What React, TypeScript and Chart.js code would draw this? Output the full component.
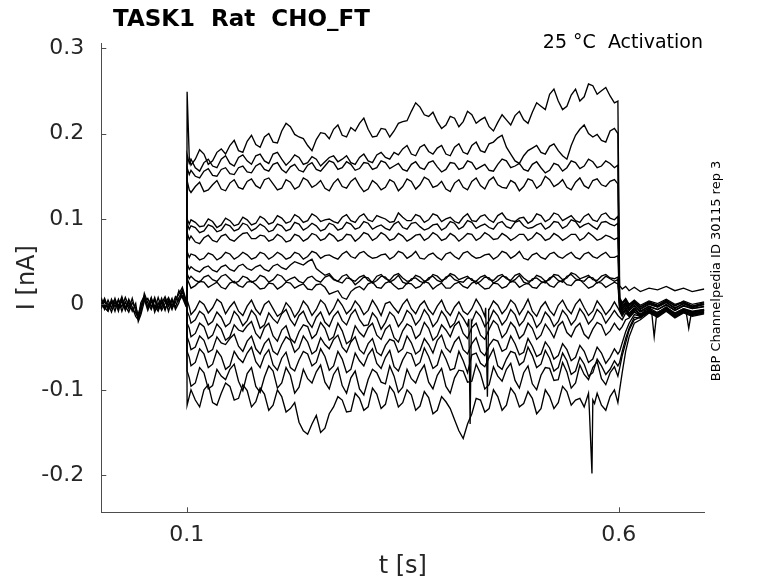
import React, { useEffect, useRef } from 'react';
import { Chart, registerables } from 'chart.js';

Chart.register(...registerables);

// time bases (s)
const holdTimes = [0.001, 0.005, 0.009, 0.013, 0.017, 0.021, 0.025, 0.029, 0.033, 0.037, 0.041, 0.044, 0.047, 0.051, 0.055, 0.059, 0.063, 0.067, 0.071, 0.075, 0.079, 0.083, 0.087, 0.091, 0.095, 0.0995];
const stepTimes = [0.1005, 0.103, 0.11, 0.12, 0.13, 0.14, 0.15, 0.16, 0.17, 0.18, 0.19, 0.2, 0.21, 0.22, 0.23, 0.24, 0.25, 0.26, 0.27, 0.28, 0.29, 0.3, 0.31, 0.32, 0.33, 0.34, 0.35, 0.36, 0.37, 0.38, 0.39, 0.4, 0.41, 0.42, 0.43, 0.44, 0.45, 0.46, 0.47, 0.48, 0.49, 0.5, 0.51, 0.52, 0.53, 0.54, 0.55, 0.56, 0.57, 0.58, 0.59, 0.599];
const midTimes = [0.105, 0.115, 0.125, 0.135, 0.145, 0.155, 0.165, 0.175, 0.185, 0.195, 0.205, 0.215, 0.225, 0.235, 0.245, 0.255, 0.265, 0.275, 0.285, 0.295, 0.305, 0.315, 0.325, 0.335, 0.345, 0.355, 0.365, 0.375, 0.385, 0.395, 0.405, 0.415, 0.425, 0.435, 0.445, 0.455, 0.465, 0.475, 0.485, 0.495, 0.505, 0.515, 0.525, 0.535, 0.545, 0.555, 0.565, 0.575, 0.585, 0.595];
const tailTimes = [0.601, 0.604, 0.608, 0.612, 0.618, 0.625, 0.635, 0.645, 0.655, 0.665, 0.675, 0.685, 0.699];
const stepOnset = 0.1;
const holdingLevel = 0;

// holding current before the step (pA)
const hold1 = [3, -6, 5, -4, 7, -5, 4, -7, 6, -3, -14, -18, -9, 13, 2, -6, 5, -4, 7, -5, 3, -6, 6, 12, 20, 4];
const hold2 = [-5, 4, -7, 6, -3, 5, -8, 3, -5, 7, -8, -16, -4, 6, -7, 4, -5, 8, -4, 6, -8, 5, -3, 8, 15, -2];
const hold3 = [6, -2, 1, -9, 3, -8, 7, -2, -9, 2, -4, -12, -2, 9, -3, 8, -9, 2, -7, 1, 8, -2, 9, 4, 10, 0];
const hold4 = [-2, 7, -4, 3, -8, 6, -3, 8, -2, -6, -10, -15, 2, 10, -4, 7, -2, -8, 4, -7, 6, -4, 2, 16, 8, -3];
const hold5 = [8, -4, -8, 2, 5, -2, 9, -5, 3, -8, 1, -20, -12, 4, 7, -3, 8, -6, 1, 9, -2, 7, -6, 2, 18, 2];

// current during the step at stepTimes, one array per sweep (pA)
const step01 = [249, 172, 170, 176, 168, 182, 186, 180, 191, 187, 196, 190, 203, 208, 196, 186, 193, 200, 205, 198, 207, 212, 205, 197, 205, 203, 214, 226, 231, 220, 214, 210, 218, 214, 222, 216, 208, 213, 216, 221, 216, 225, 232, 246, 238, 232, 252, 243, 256, 250, 244, 238];
const step02 = [175, 165, 160, 166, 162, 170, 165, 172, 168, 174, 168, 176, 170, 168, 172, 166, 170, 167, 174, 170, 166, 172, 168, 175, 172, 178, 182, 176, 184, 179, 183, 176, 184, 178, 186, 180, 188, 195, 184, 168, 174, 183, 178, 185, 180, 170, 198, 210, 196, 192, 203, 200];
const step03 = [160, 152, 150, 156, 151, 158, 153, 160, 155, 162, 158, 164, 158, 161, 157, 163, 158, 162, 166, 160, 164, 159, 165, 160, 166, 162, 158, 164, 160, 166, 161, 158, 165, 160, 166, 161, 157, 164, 168, 162, 158, 164, 160, 157, 163, 160, 166, 162, 167, 162, 165, 163];
const step04 = [145, 134, 138, 132, 140, 135, 142, 137, 144, 139, 146, 141, 136, 143, 138, 145, 140, 136, 142, 138, 144, 139, 135, 141, 137, 143, 138, 144, 140, 146, 139, 135, 142, 137, 144, 139, 145, 140, 136, 142, 138, 145, 140, 146, 141, 137, 143, 139, 145, 140, 144, 141];
const step05 = [100, 94, 96, 92, 97, 93, 98, 94, 99, 95, 100, 96, 101, 97, 102, 98, 103, 99, 97, 102, 98, 103, 99, 104, 100, 97, 102, 98, 103, 99, 104, 100, 97, 102, 98, 103, 99, 104, 100, 97, 102, 98, 104, 100, 105, 101, 98, 103, 99, 105, 101, 103];
const step06 = [95, 88, 90, 86, 91, 87, 92, 88, 93, 89, 91, 87, 92, 88, 94, 90, 92, 88, 93, 89, 94, 90, 95, 91, 89, 94, 90, 95, 91, 89, 94, 90, 95, 91, 96, 92, 90, 95, 91, 96, 92, 90, 95, 91, 96, 92, 97, 93, 91, 96, 94, 95];
const step07 = [84, 76, 73, 78, 75, 80, 76, 79, 84, 77, 80, 76, 79, 75, 80, 77, 81, 77, 80, 76, 81, 78, 82, 78, 81, 77, 80, 77, 82, 78, 81, 77, 80, 78, 82, 78, 81, 77, 80, 78, 82, 78, 81, 77, 80, 78, 82, 78, 80, 77, 79, 78];
const step08 = [62, 55, 57, 54, 58, 55, 59, 56, 58, 55, 59, 56, 58, 55, 59, 56, 60, 57, 55, 59, 56, 60, 57, 55, 59, 56, 60, 57, 54, 58, 55, 59, 56, 60, 57, 55, 59, 56, 60, 57, 54, 58, 55, 59, 56, 58, 55, 59, 56, 58, 55, 57];
const step09 = [48, 41, 40, 43, 40, 44, 41, 45, 42, 44, 41, 45, 43, 46, 48, 50, 42, 34, 30, 33, 29, 32, 28, 33, 30, 34, 31, 28, 32, 29, 33, 30, 34, 31, 28, 32, 29, 33, 30, 34, 31, 28, 32, 29, 34, 31, 35, 32, 29, 33, 31, 32];
const step10 = [36, 30, 28, 32, 29, 33, 30, 27, 31, 28, 32, 29, 33, 30, 27, 31, 28, 32, 29, 25, 30, 27, 31, 28, 32, 29, 26, 30, 27, 31, 28, 32, 29, 26, 30, 27, 31, 28, 32, 29, 26, 30, 27, 31, 28, 33, 30, 27, 31, 28, 30, 29];
const step11 = [30, 24, 22, 26, 23, 20, 25, 22, 26, 23, 19, 24, 21, 25, 22, 18, 23, 20, 14, 8, 15, 21, 24, 20, 25, 22, 19, 24, 21, 25, 22, 19, 24, 21, 25, 22, 19, 24, 21, 26, 23, 20, 25, 22, 26, 23, 28, 24, 21, 25, 23, 24];
const step12 = [5, -3, -6, 0, -4, 2, -3, -8, -2, -6, 0, -5, -10, -4, -8, -2, -6, 0, -5, -1, -6, -2, -7, -3, 1, -4, 0, -5, -1, -6, -2, -7, -3, -8, -5, -2, -6, -1, -5, 0, -4, -8, -3, -7, -1, -5, 0, -4, -8, -3, -6, -4];
const step13 = [-8, -14, -18, -12, -20, -15, -22, -14, -19, -13, -24, -17, -11, -18, -13, -20, -15, -21, -14, -19, -12, -18, -24, -16, -21, -14, -19, -12, -18, -13, -20, -15, -22, -16, -20, -14, -19, -13, -18, -12, -19, -14, -21, -15, -20, -13, -18, -12, -17, -11, -15, -13];
const step14 = [-22, -28, -34, -26, -36, -29, -38, -30, -25, -34, -27, -37, -30, -40, -32, -26, -35, -28, -38, -31, -42, -33, -27, -36, -29, -39, -31, -26, -35, -28, -37, -30, -25, -34, -27, -36, -29, -24, -33, -27, -35, -28, -36, -30, -25, -33, -27, -35, -29, -24, -31, -28];
const step15 = [-38, -45, -50, -42, -53, -45, -40, -49, -43, -52, -46, -55, -47, -42, -51, -44, -54, -47, -41, -50, -44, -53, -46, -56, -48, -43, -52, -45, -54, -47, -42, -51, -44, -53, -46, -55, -48, -43, -52, -46, -56, -49, -58, -51, -60, -53, -62, -55, -64, -57, -62, -58];
const step16 = [-55, -62, -68, -58, -70, -61, -72, -63, -57, -67, -60, -71, -63, -74, -65, -58, -68, -61, -72, -64, -76, -66, -59, -69, -62, -73, -65, -58, -68, -61, -71, -64, -75, -66, -59, -69, -62, -72, -64, -57, -67, -60, -70, -63, -74, -66, -78, -70, -80, -72, -76, -72];
const step17 = [-78, -86, -92, -80, -95, -84, -76, -90, -81, -96, -85, -78, -92, -83, -97, -87, -79, -91, -82, -95, -86, -99, -88, -80, -93, -84, -97, -87, -79, -91, -83, -96, -86, -78, -90, -81, -94, -84, -76, -89, -80, -93, -83, -75, -88, -79, -92, -82, -74, -87, -80, -84];
const step18 = [-118, -108, -112, -100, -115, -104, -96, -110, -101, -114, -105, -118, -108, -122, -138, -152, -130, -145, -120, -112, -125, -110, -120, -105, -117, -103, -115, -106, -119, -109, -124, -114, -135, -157, -128, -112, -122, -108, -118, -105, -116, -110, -122, -108, -115, -102, -112, -120, -112, -118, -108, -115];

// current during the step at midTimes (pA)
const mid01 = [163, 181, 164, 178, 176, 192, 178, 198, 184, 200, 189, 212, 199, 194, 180, 201, 194, 210, 196, 203, 218, 196, 206, 196, 212, 215, 236, 222, 225, 206, 220, 208, 226, 212, 219, 203, 222, 210, 226, 212, 236, 228, 252, 228, 245, 238, 258, 246, 254, 236];
const mid02 = [170, 156, 170, 160, 174, 162, 175, 164, 176, 165, 178, 163, 175, 164, 173, 162, 172, 167, 174, 164, 176, 166, 178, 170, 175, 186, 174, 187, 176, 186, 174, 188, 176, 190, 178, 190, 198, 176, 165, 180, 186, 176, 188, 174, 186, 205, 200, 199, 190, 206];
const mid03 = [157, 148, 159, 150, 160, 152, 162, 154, 165, 156, 166, 154, 164, 155, 166, 156, 168, 158, 167, 157, 166, 158, 168, 159, 165, 156, 167, 158, 168, 155, 166, 158, 168, 158, 164, 156, 170, 160, 165, 156, 167, 154, 165, 156, 168, 159, 170, 160, 168, 160];
const mid04 = [131, 143, 134, 145, 133, 146, 135, 147, 136, 148, 134, 146, 135, 148, 137, 145, 133, 147, 136, 148, 132, 145, 134, 146, 133, 147, 135, 149, 137, 144, 132, 146, 134, 148, 135, 149, 137, 145, 133, 147, 136, 150, 138, 146, 134, 148, 136, 147, 138, 146];
const mid05 = [99, 91, 100, 90, 101, 92, 102, 93, 103, 94, 104, 95, 105, 96, 106, 97, 100, 95, 105, 96, 106, 97, 102, 96, 107, 98, 105, 96, 106, 97, 102, 95, 106, 97, 105, 96, 107, 98, 101, 95, 106, 97, 107, 98, 104, 96, 106, 97, 107, 99];
const mid06 = [92, 84, 93, 85, 94, 86, 95, 86, 94, 85, 94, 86, 96, 87, 95, 86, 95, 87, 96, 88, 97, 88, 93, 87, 97, 88, 96, 87, 93, 87, 97, 88, 98, 89, 94, 88, 97, 89, 98, 89, 93, 88, 97, 89, 99, 90, 95, 88, 97, 92];
const mid07 = [80, 71, 81, 73, 82, 74, 83, 77, 81, 74, 82, 73, 82, 74, 83, 75, 83, 74, 82, 74, 84, 75, 84, 75, 83, 74, 81, 75, 84, 75, 83, 74, 83, 75, 84, 76, 83, 75, 82, 75, 84, 75, 83, 75, 82, 75, 84, 75, 81, 76];
const mid08 = [59, 52, 60, 52, 61, 53, 61, 53, 61, 53, 61, 53, 61, 53, 62, 54, 58, 53, 62, 54, 62, 54, 58, 53, 62, 54, 62, 53, 60, 52, 61, 53, 62, 54, 58, 53, 62, 54, 62, 52, 60, 53, 61, 54, 61, 53, 61, 54, 61, 55];
const mid09 = [44, 38, 45, 38, 46, 39, 47, 40, 46, 39, 47, 41, 50, 46, 53, 38, 36, 27, 35, 27, 34, 26, 35, 28, 36, 27, 34, 27, 35, 28, 36, 29, 33, 27, 34, 28, 35, 28, 36, 27, 34, 27, 35, 29, 37, 30, 34, 28, 35, 30];
const mid10 = [33, 26, 34, 27, 35, 25, 33, 26, 34, 26, 35, 27, 32, 25, 33, 26, 34, 27, 31, 23, 32, 25, 33, 26, 34, 24, 31, 25, 33, 26, 34, 27, 31, 24, 32, 25, 33, 26, 34, 24, 31, 25, 33, 26, 35, 28, 32, 25, 33, 27];
const mid11 = [19, 27, 20, 26, 18, 27, 20, 27, 18, 25, 18, 26, 19, 24, 17, 24, 12, 16, 6, 19, 17, 26, 19, 27, 18, 25, 19, 27, 18, 25, 19, 26, 19, 27, 18, 25, 19, 27, 20, 25, 19, 27, 20, 28, 22, 29, 19, 26, 20, 26];
const mid12 = [-12, 4, -10, 6, -11, 3, -13, 5, -12, 4, -14, 2, -15, 4, -13, 5, -12, 6, -11, 4, -12, 5, -13, 3, -10, 6, -11, 4, -12, 5, -13, 3, -12, 6, -14, 4, -11, 5, -12, 6, -14, 3, -13, 5, -11, 6, -13, 4, -12, 3];
const mid13 = [-22, -8, -24, -9, -26, -8, -25, -7, -28, -10, -22, -6, -25, -8, -27, -9, -26, -8, -24, -6, -25, -10, -29, -9, -26, -7, -24, -6, -26, -8, -27, -9, -25, -8, -26, -7, -24, -6, -25, -8, -27, -9, -26, -7, -24, -5, -23, -6, -22, -7];
const mid14 = [-38, -22, -40, -23, -42, -24, -32, -20, -40, -22, -43, -25, -45, -24, -40, -21, -42, -22, -46, -25, -38, -22, -41, -24, -44, -23, -40, -21, -42, -24, -38, -20, -40, -22, -41, -19, -39, -21, -40, -22, -41, -23, -39, -20, -38, -22, -40, -21, -36, -22];
const mid15 = [-53, -37, -56, -38, -47, -35, -55, -37, -58, -40, -59, -38, -56, -37, -58, -39, -52, -36, -56, -38, -58, -40, -60, -41, -56, -37, -58, -40, -57, -36, -56, -38, -58, -39, -60, -41, -55, -37, -59, -40, -61, -44, -64, -46, -66, -48, -68, -50, -69, -52];
const mid16 = [-72, -52, -74, -54, -76, -55, -68, -50, -74, -53, -77, -56, -78, -55, -72, -52, -77, -55, -80, -57, -72, -52, -75, -54, -78, -56, -72, -51, -75, -54, -77, -55, -80, -57, -73, -52, -76, -55, -71, -50, -74, -54, -78, -57, -82, -62, -84, -64, -82, -66];
const mid17 = [-96, -74, -99, -76, -88, -70, -101, -74, -103, -72, -98, -74, -104, -76, -92, -71, -99, -74, -104, -78, -106, -76, -91, -72, -103, -76, -92, -71, -99, -75, -104, -77, -91, -70, -99, -73, -90, -69, -98, -72, -100, -74, -89, -68, -98, -71, -88, -67, -94, -73];
const mid18 = [-100, -120, -94, -118, -92, -112, -94, -120, -98, -124, -100, -126, -115, -148, -140, -150, -128, -108, -126, -104, -124, -98, -122, -96, -120, -100, -124, -102, -128, -108, -122, -148, -140, -110, -126, -100, -124, -98, -120, -102, -128, -100, -122, -96, -118, -110, -104, -104, -124, -100];

// current after the step (pA)
const tail01 = [22, 18, 21, 16, 20, 15, 19, 17, 21, 16, 19, 15, 18];
const tail02 = [5, 0, 6, -2, 4, -3, 3, -1, 5, -2, 4, 0, 3];
const tail03 = [8, 2, 7, 0, 5, -1, 4, 1, 6, 0, 3, -2, 2];
const tail04 = [3, -4, 2, -5, 1, -6, 0, -3, 2, -5, 1, -4, 0];
const tail05 = [6, 1, 5, -1, 3, -3, 2, -2, 4, -1, 2, -3, 1];
const tail06 = [0, -6, -1, -7, -2, -8, -3, -6, -1, -7, -2, -5, -3];
const tail07 = [4, -2, 3, -4, 2, -5, 1, -3, 3, -4, 1, -2, 0];
const tail08 = [-2, -8, -3, -10, -4, -9, -5, -9, -4, -10, -5, -8, -6];
const tail09 = [-4, -10, -5, -12, -6, -11, -7, -10, -5, -12, -6, -9, -7];
const tail10 = [1, -5, 0, -7, -1, -8, -2, -6, 0, -7, -1, -5, -2];
const tail11 = [-6, -12, -7, -14, -8, -15, -9, -12, -7, -14, -8, -11, -9];
const tail12 = [-8, -14, -6, -12, -5, -13, -7, -11, -4, -12, -6, -10, -7];
const tail13 = [-15, -18, -10, -14, -6, -12, -4, -10, -3, -11, -5, -9, -6];
const tail14 = [-30, -26, -18, -16, -9, -13, -6, -11, -4, -12, -6, -10, -7];
const tail15 = [-55, -45, -32, -22, -12, -14, -7, -12, -5, -13, -7, -12, -8];
const tail16 = [-68, -55, -40, -28, -15, -16, -8, -13, -6, -14, -8, -12, -9];
const tail17 = [-75, -60, -45, -30, -18, -15, -9, -14, -7, -15, -9, -13, -10];
const tail18 = [-100, -80, -55, -38, -22, -18, -10, -15, -8, -16, -10, -14, -11];

// short transients: sweep index -> [t (s), pA]
const spikes: Record<number, number[][]> = {
  7: [[0.638, -8], [0.641, -38], [0.644, -10]],
  11: [[0.446, -4], [0.448, -108], [0.4495, -6]],
  12: [[0.4265, -17], [0.428, -140], [0.4295, -19]],
  14: [[0.678, -9], [0.681, -28], [0.684, -10]],
  17: [[0.566, -124], [0.569, -198], [0.572, -116]],
};

const holds = [hold1, hold2, hold3, hold4, hold5];
const steps = [step01, step02, step03, step04, step05, step06, step07, step08, step09, step10, step11, step12, step13, step14, step15, step16, step17, step18];
const mids = [mid01, mid02, mid03, mid04, mid05, mid06, mid07, mid08, mid09, mid10, mid11, mid12, mid13, mid14, mid15, mid16, mid17, mid18];
const tails = [tail01, tail02, tail03, tail04, tail05, tail06, tail07, tail08, tail09, tail10, tail11, tail12, tail13, tail14, tail15, tail16, tail17, tail18];

const xTicks = [0.1, 0.6];
const xTickLabels = ['0.1', '0.6'];
const yTicks = [-0.2, -0.1, 0, 0.1, 0.2, 0.3];
const yTickLabels = ['-0.2', '-0.1', '0', '0.1', '0.2', '0.3'];

const titleText = 'TASK1  Rat  CHO_FT';
const noteText = '25 °C  Activation';
const sideText = 'BBP Channelpedia ID 30115 rep 3';

const axisColor = '#4d4d4d';
const textColor = '#262626';
const FONT = '"DejaVu Sans", sans-serif';

const sweepPoints = (i: number) => {
  const pts = [{ x: stepOnset, y: holdingLevel }];
  stepTimes.forEach((t, k) => pts.push({ x: t, y: steps[i][k] / 1000 }));
  midTimes.forEach((t, k) => pts.push({ x: t, y: mids[i][k] / 1000 }));
  tailTimes.forEach((t, k) => pts.push({ x: t, y: tails[i][k] / 1000 }));
  (spikes[i] || []).forEach(([t, v]) => pts.push({ x: t, y: v / 1000 }));
  return pts.sort((a, b) => a.x - b.x);
};

const extras = {
  id: 'extras',
  afterDraw(chart: any) {
    const { ctx, chartArea, scales } = chart;
    ctx.save();
    // inward tick marks
    ctx.strokeStyle = axisColor;
    ctx.lineWidth = 1;
    ctx.beginPath();
    xTicks.forEach(v => {
      const px = Math.round(scales.x.getPixelForValue(v)) + 0.5;
      ctx.moveTo(px, chartArea.bottom);
      ctx.lineTo(px, chartArea.bottom - 5);
    });
    yTicks.forEach(v => {
      const py = Math.round(scales.y.getPixelForValue(v)) + 0.5;
      ctx.moveTo(chartArea.left, py);
      ctx.lineTo(chartArea.left + 5, py);
    });
    ctx.stroke();

    ctx.fillStyle = '#000';
    ctx.textBaseline = 'alphabetic';
    ctx.textAlign = 'left';
    ctx.font = `bold 23px ${FONT}`;
    ctx.fillText(titleText, 113, 26);

    ctx.textAlign = 'right';
    ctx.font = `19px ${FONT}`;
    ctx.fillText(noteText, 703, 47.5);

    ctx.translate(716.5, 271);
    ctx.rotate(-Math.PI / 2);
    ctx.textAlign = 'center';
    ctx.textBaseline = 'middle';
    ctx.font = `13px ${FONT}`;
    ctx.fillText(sideText, 0, 0);
    ctx.restore();
  },
};

const App: React.FC = () => {
  const canvasRef = useRef<HTMLCanvasElement>(null);
  const chartRef = useRef<Chart | null>(null);

  useEffect(() => {
    if (!canvasRef.current) return;
    if (chartRef.current) {
      chartRef.current.destroy();
      chartRef.current = null;
    }

    const datasets: any[] = [];
    holds.forEach(h => {
      datasets.push({
        data: holdTimes.map((t, k) => ({ x: t, y: h[k] / 1000 })),
        borderColor: '#000',
        borderWidth: 1.4,
        pointRadius: 0,
      });
    });
    steps.forEach((_, i) => {
      datasets.push({
        data: sweepPoints(i),
        borderColor: '#000',
        borderWidth: 1.35,
        pointRadius: 0,
      });
    });

    chartRef.current = new Chart(canvasRef.current, {
      type: 'line',
      data: { datasets },
      plugins: [extras],
      options: {
        animation: false,
        responsive: false,
        parsing: false,
        events: [],
        layout: { padding: { left: 0, right: 73.7, top: 43, bottom: 0 } },
        plugins: { legend: { display: false }, tooltip: { enabled: false } },
        elements: { line: { tension: 0 } },
        scales: {
          x: {
            type: 'linear',
            min: 0.0012,
            max: 0.699,
            afterFit: (s: any) => { s.height = 70.7; },
            afterBuildTicks: (s: any) => { s.ticks = xTicks.map(v => ({ value: v })); },
            grid: { display: false, drawTicks: false },
            border: { display: true, color: axisColor, width: 1 },
            ticks: {
              padding: 10,
              color: textColor,
              font: { family: FONT, size: 22 },
              maxRotation: 0,
              callback: (_v: any, i: number) => xTickLabels[i],
            },
            title: {
              display: true,
              text: 't [s]',
              color: textColor,
              font: { family: FONT, size: 24 },
              padding: { top: 0, bottom: 2 },
            },
          },
          y: {
            type: 'linear',
            min: -0.2434,
            max: 0.306,
            afterFit: (s: any) => { s.width = 101.3; },
            afterBuildTicks: (s: any) => { s.ticks = yTicks.map(v => ({ value: v })); },
            grid: { display: false, drawTicks: false },
            border: { display: true, color: axisColor, width: 1 },
            ticks: {
              padding: 17,
              color: textColor,
              font: { family: FONT, size: 22 },
              callback: (_v: any, i: number) => yTickLabels[i],
            },
            title: {
              display: true,
              text: 'I [nA]',
              color: textColor,
              font: { family: FONT, size: 24 },
              padding: { top: 13, bottom: 0 },
            },
          },
        },
      },
    });

    return () => {
      if (chartRef.current) {
        chartRef.current.destroy();
        chartRef.current = null;
      }
    };
  }, []);

  return (
    <div style={{ position: 'absolute', left: 0, top: 0, width: 778, height: 583, background: '#fff' }}>
      <canvas ref={canvasRef} width={778} height={583} style={{ display: 'block' }}></canvas>
    </div>
  );
};

export default App;
